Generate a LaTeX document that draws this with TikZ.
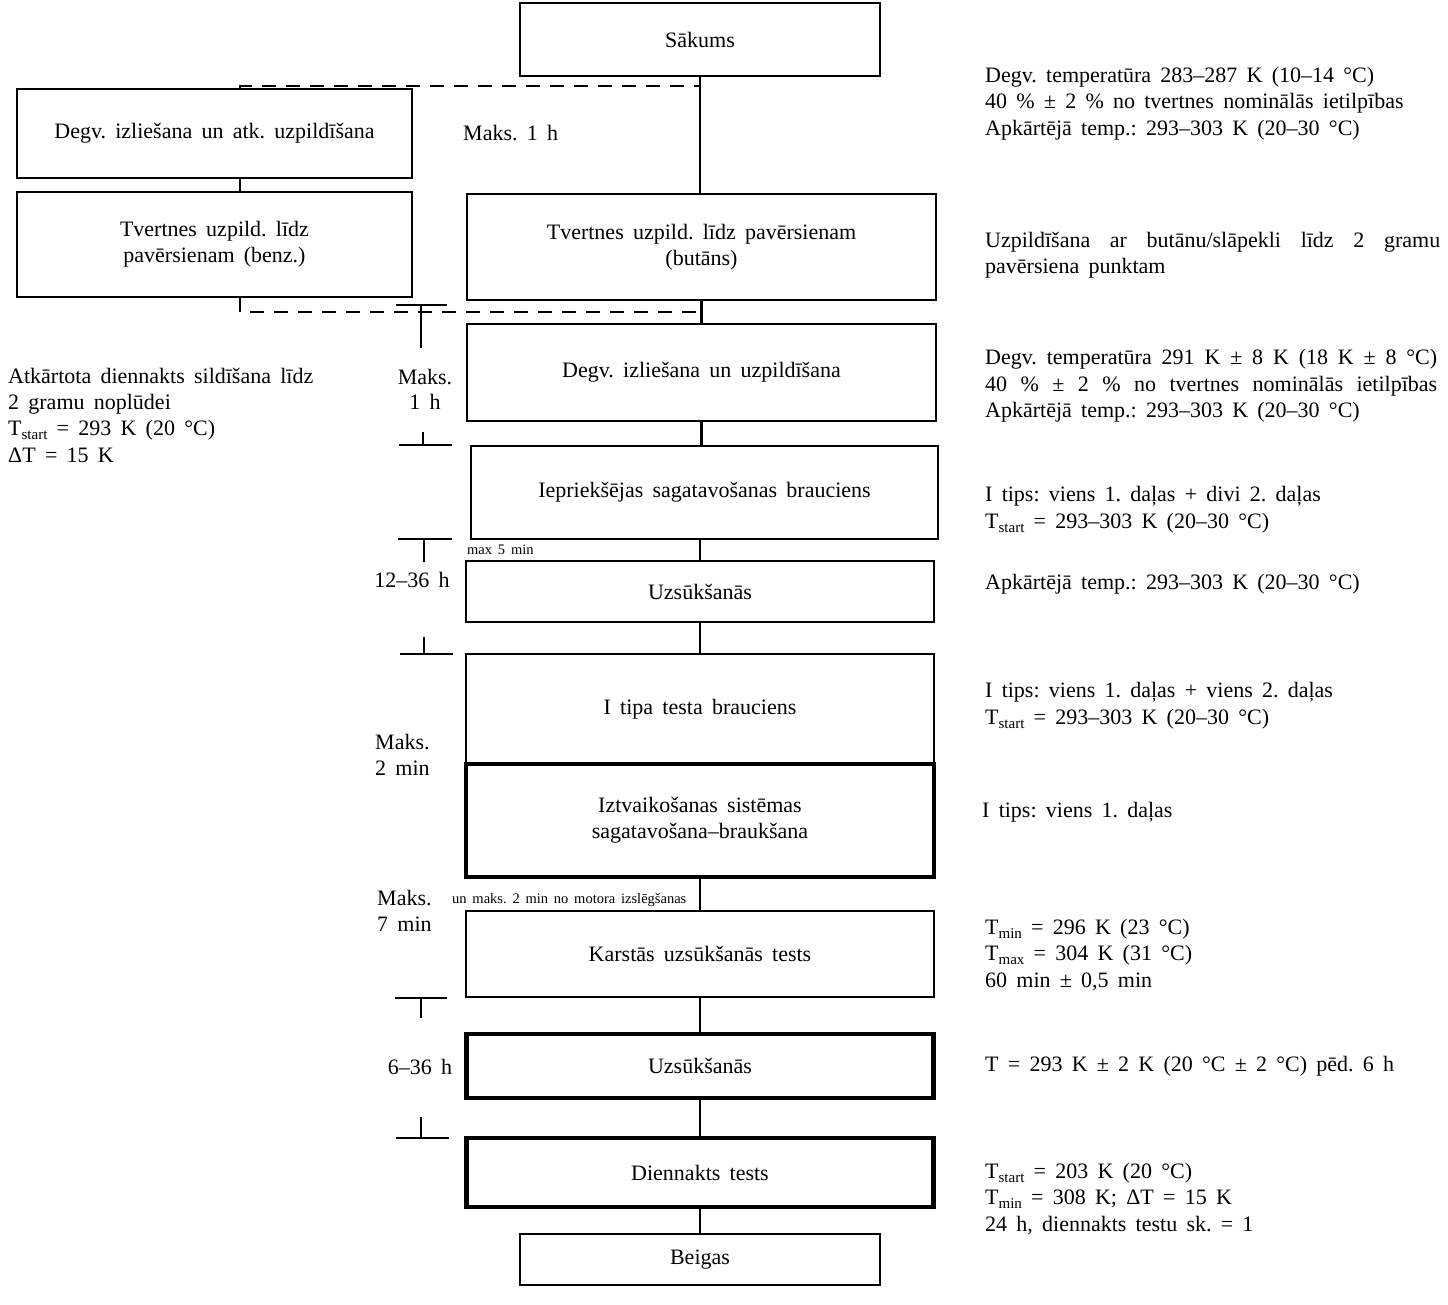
\documentclass[tikz,border=0pt]{standalone}
\usepackage{fontspec}
\setmainfont{Liberation Serif}
\frenchspacing
\newcommand\fs{\fontsize{22pt}{26pt}\selectfont\frenchspacing\spaceskip=0.42em plus 0.5em minus 0.1em\relax}
\newcommand\fsmall{\fontsize{14.5pt}{16pt}\selectfont\frenchspacing\spaceskip=0.4em plus 0.2em\relax}
\newcommand\sbs[1]{\raisebox{-0.45ex}{\fontsize{15pt}{15pt}\selectfont #1}}
\newcommand\jline[2]{\makebox[#1][s]{#2}}
\tikzset{
  box/.style={draw, line width=2pt, inner sep=0pt, align=center, font=\fs},
  bbox/.style={box, line width=4.5pt},
  conn/.style={line width=2.2pt},
  dashline/.style={line width=2.2pt, dash pattern=on 14pt off 10pt},
  tickline/.style={line width=2pt},
  txt/.style={anchor=base west, inner sep=0pt, font=\fs},
  ctxt/.style={anchor=base, inner sep=0pt, font=\fs},
  stxt/.style={anchor=base west, inner sep=0pt, font=\fsmall},
}
\begin{document}
\begin{tikzpicture}[x=1pt,y=-1pt]
\useasboundingbox (0,0) rectangle (1448,1304);

% boxes
\node[box, minimum width=360pt, minimum height=73pt] (sakums) at (700,39.5) {Sākums};
\node[box, minimum width=395pt, minimum height=89pt] (izl) at (214.5,133.5) {Degv. izliešana un atk. uzpildīšana};
\node[box, minimum width=395pt, minimum height=105pt] (benz) at (214.5,244.5) {Tvertnes uzpild. līdz\\pavērsienam (benz.)};
\node[box, minimum width=469pt, minimum height=106pt] (butan) at (701.5,247) {Tvertnes uzpild. līdz pavērsienam\\(butāns)};
\node[box, minimum width=469pt, minimum height=97pt] (degv) at (701.5,372.5) {Degv. izliešana un uzpildīšana};
\node[box, minimum width=467pt, minimum height=93pt] (iepr) at (704.5,492.5) {Iepriekšējas sagatavošanas brauciens};
\node[box, minimum width=468pt, minimum height=61pt] (uzs1) at (700,591.5) {Uzsūkšanās};
\node[box, minimum width=468pt, minimum height=110pt] (itipa) at (700,709) {I tipa testa brauciens};
\node[bbox, minimum width=468pt, minimum height=113pt] (iztv) at (700,820.5) {Iztvaikošanas sistēmas\\sagatavošana–braukšana};
\node[box, minimum width=468pt, minimum height=86pt] (karst) at (700,954) {Karstās uzsūkšanās tests};
\node[bbox, minimum width=467pt, minimum height=64pt] (uzs2) at (700,1066) {Uzsūkšanās};
\node[bbox, minimum width=467pt, minimum height=69pt] (dienn) at (700,1172.5) {Diennakts tests};
\node[box, minimum width=360pt, minimum height=51pt] (beigas) at (700,1259.5) {Beigas};

% connectors
\coordinate (lx) at (240,0);
\draw[conn] (sakums.south) -- (sakums.south |- butan.north);
\draw[conn] (butan.south) -- (butan.south |- degv.north);
\draw[conn] (degv.south) -- (degv.south |- iepr.north);
\draw[conn] (uzs1.north) -- (uzs1.north |- iepr.south);
\draw[conn] (uzs1.south) -- (itipa.north);
\draw[conn] (iztv.south) -- (karst.north);
\draw[conn] (karst.south) -- (uzs2.north);
\draw[conn] (uzs2.south) -- (dienn.north);
\draw[conn] (dienn.south) -- (beigas.north);
\draw[conn] (izl.south -| lx) -- (benz.north -| lx);

% dashed paths
\coordinate (dtop) at (240,86);
\coordinate (dbot) at (240,312);
\draw[dashline] (izl.north -| dtop) -- (dtop) -- (dtop -| sakums.south);
\draw[dashline] (benz.south -| dbot) -- (dbot) -- (dbot -| butan.south);

% timing ticks
\draw[tickline] (396,305) -- (447,305) (421,305) -- (421,348);
\draw[tickline] (423,432) -- (423,445) (399,445) -- (452,445);
\draw[tickline] (398,539) -- (452,539) (424,539) -- (424,562);
\draw[tickline] (424,637) -- (424,654) (400,654) -- (453,654);
\draw[tickline] (395,998) -- (447,998) (421,998) -- (421,1018);
\draw[tickline] (421,1117) -- (421,1138) (396,1138) -- (449,1138);

% timing labels
\node[txt] (m1h) at (463,140) {Maks. 1 h};
\node[ctxt] (m1a) at (425,384) {Maks.};
\node[ctxt] (m1b) at (425,409) {1 h};
\node[ctxt] (h1236) at (412,587) {12–36 h};
\node[stxt] (max5) at (467,554) {max 5 min};
\node[txt] (m2a) at (375,749) {Maks.};
\node[txt] (m2b) at (375,775) {2 min};
\node[txt] (m7a) at (377,905) {Maks.};
\node[txt] (m7b) at (377,931) {7 min};
\node[stxt] (unmaks) at (452,903) {un maks. 2 min no motora izslēgšanas};
\node[ctxt] (h636) at (420,1074) {6–36 h};

% left text
\node[txt] (la) at (8,383) {Atkārtota diennakts sildīšana līdz};
\node[txt] (lb) at (8,409) {2 gramu noplūdei};
\node[txt] (lc) at (8,435) {T\sbs{start} = 293 K (20 °C)};
\node[txt] (ld) at (8,462) {ΔT = 15 K};

% right texts
\node[txt] (r1a) at (985,82) {Degv. temperatūra 283–287 K (10–14 °C)};
\node[txt] (r1b) at (985,108) {40 \% ± 2 \% no tvertnes nominālās ietilpības};
\node[txt] (r1c) at (985,135) {Apkārtējā temp.: 293–303 K (20–30 °C)};
\node[txt] (r2a) at (985,247) {\jline{455pt}{Uzpildīšana ar butānu/slāpekli līdz 2 gramu}};
\node[txt] (r2b) at (985,273) {pavērsiena punktam};
\node[txt] (r3a) at (985,364) {\jline{452pt}{Degv. temperatūra 291 K ± 8 K (18 K ± 8 °C)}};
\node[txt] (r3b) at (985,391) {\jline{452pt}{40 \% ± 2 \% no tvertnes nominālās ietilpības}};
\node[txt] (r3c) at (985,417) {Apkārtējā temp.: 293–303 K (20–30 °C)};
\node[txt] (r4a) at (985,501) {I tips: viens 1. daļas + divi 2. daļas};
\node[txt] (r4b) at (985,528) {T\sbs{start} = 293–303 K (20–30 °C)};
\node[txt] (r5) at (985,589) {Apkārtējā temp.: 293–303 K (20–30 °C)};
\node[txt] (r6a) at (985,697) {I tips: viens 1. daļas + viens 2. daļas};
\node[txt] (r6b) at (985,724) {T\sbs{start} = 293–303 K (20–30 °C)};
\node[txt] (r7) at (982,817) {I tips: viens 1. daļas};
\node[txt] (r8a) at (985,934) {T\sbs{min} = 296 K (23 °C)};
\node[txt] (r8b) at (985,960) {T\sbs{max} = 304 K (31 °C)};
\node[txt] (r8c) at (985,987) {60 min ± 0,5 min};
\node[txt] (r9) at (985,1071) {T = 293 K ± 2 K (20 °C ± 2 °C) pēd. 6 h};
\node[txt] (r10a) at (985,1178) {T\sbs{start} = 203 K (20 °C)};
\node[txt] (r10b) at (985,1204) {T\sbs{min} = 308 K; ΔT = 15 K};
\node[txt] (r10c) at (985,1231) {24 h, diennakts testu sk. = 1};
\end{tikzpicture}
\end{document}
